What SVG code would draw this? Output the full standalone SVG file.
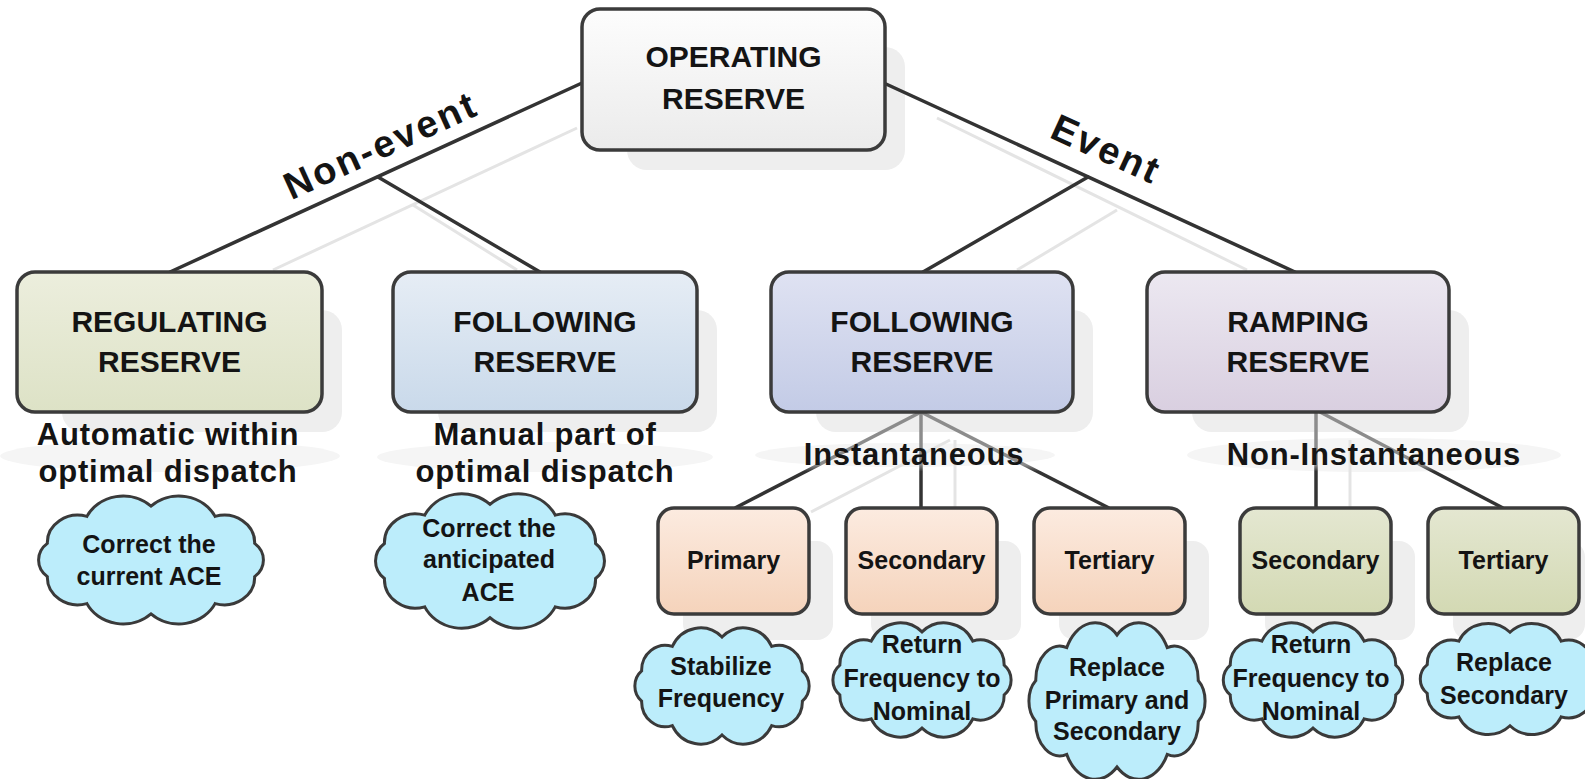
<svg xmlns="http://www.w3.org/2000/svg" xmlns:xlink="http://www.w3.org/1999/xlink" width="1585" height="779" viewBox="0 0 1585 779">
<style>
.box{stroke:#3b3b3b;stroke-width:3.5}
.shadow{fill:#eeeeee}
.halo{fill:#f5f5f5}
.conn{stroke:#333;stroke-width:3.5;fill:none;stroke-linecap:round}
.sub{stroke:url(#fade);stroke-width:3.5;fill:none}
.faint{stroke:#e4e4e4;stroke-width:3;fill:none}
text{font-family:"Liberation Sans",Arial,sans-serif;font-weight:bold;fill:#141414;text-anchor:middle}
.t-big{font-size:30px}
.t-cap{font-size:31px;letter-spacing:0.8px}
.t-sm{font-size:25px}
.t-lbl{font-size:38px;letter-spacing:2.5px}
.cloud{fill:#bcedfb;stroke:#3a3a3a;stroke-width:3}
</style>
<defs>
<linearGradient id="gOp" x1="0" y1="0" x2="0" y2="1"><stop offset="0" stop-color="#fdfdfd"/><stop offset="1" stop-color="#ebebeb"/></linearGradient>
<linearGradient id="gReg" x1="0" y1="0" x2="0" y2="1"><stop offset="0" stop-color="#eceedd"/><stop offset="1" stop-color="#dde2c6"/></linearGradient>
<linearGradient id="gFolL" x1="0" y1="0" x2="0" y2="1"><stop offset="0" stop-color="#e6edf5"/><stop offset="1" stop-color="#c9d9ea"/></linearGradient>
<linearGradient id="gFolR" x1="0" y1="0" x2="0" y2="1"><stop offset="0" stop-color="#dfe2f2"/><stop offset="1" stop-color="#c3cbe6"/></linearGradient>
<linearGradient id="gRamp" x1="0" y1="0" x2="0" y2="1"><stop offset="0" stop-color="#ece8f1"/><stop offset="1" stop-color="#d9cfe0"/></linearGradient>
<linearGradient id="gOr" x1="0" y1="0" x2="0" y2="1"><stop offset="0" stop-color="#fcebe0"/><stop offset="1" stop-color="#f5d3bb"/></linearGradient>
<linearGradient id="gGr" x1="0" y1="0" x2="0" y2="1"><stop offset="0" stop-color="#e4e7d1"/><stop offset="1" stop-color="#d3d9b3"/></linearGradient>
<linearGradient id="fade" gradientUnits="userSpaceOnUse" x1="0" y1="412" x2="0" y2="508"><stop offset="0" stop-color="#8c8c8c"/><stop offset="0.55" stop-color="#8c8c8c"/><stop offset="0.62" stop-color="#333"/><stop offset="1" stop-color="#333"/></linearGradient>
<path id="cloud" vector-effect="non-scaling-stroke" d="M95.1,17 A28,28 0 0 1 58.8,44.5 A37,37 0 0 1 0,55 A37,37 0 0 1 -58.8,44.5 A28,28 0 0 1 -95.1,17 A22,22 0 0 1 -95.1,-17 A28,28 0 0 1 -58.8,-44.5 A37,37 0 0 1 0,-55 A37,37 0 0 1 58.8,-44.5 A28,28 0 0 1 95.1,-17 A22,22 0 0 1 95.1,17 Z"/>
</defs>
<rect width="1585" height="779" fill="#ffffff"/>

<g id="shadows">
<rect class="shadow" x="627" y="47" width="278" height="123" rx="20"/>
<rect class="shadow" x="62" y="310" width="280" height="122" rx="20"/>
<rect class="shadow" x="438" y="310" width="279" height="122" rx="20"/>
<rect class="shadow" x="816" y="310" width="277" height="122" rx="20"/>
<rect class="shadow" x="1192" y="310" width="277" height="122" rx="20"/>
<rect class="shadow" x="683" y="541" width="150" height="99" rx="16"/>
<rect class="shadow" x="871" y="541" width="150" height="99" rx="16"/>
<rect class="shadow" x="1059" y="541" width="150" height="99" rx="16"/>
<rect class="shadow" x="1265" y="541" width="150" height="99" rx="16"/>
<rect class="shadow" x="1453" y="541" width="132" height="99" rx="16"/>
<ellipse class="halo" cx="170" cy="456" rx="170" ry="16"/>
<ellipse class="halo" cx="545" cy="457" rx="168" ry="15"/>
<ellipse class="halo" cx="905" cy="455" rx="150" ry="12"/>
<ellipse class="halo" cx="1374" cy="455" rx="187" ry="17"/>
</g>

<g id="connectors">
<line class="faint" x1="577" y1="128" x2="273" y2="270"/>
<line class="faint" x1="413" y1="205" x2="517" y2="270"/>
<line class="faint" x1="937" y1="118" x2="1247" y2="270"/>
<line class="faint" x1="1117" y1="210" x2="1017" y2="270"/>
<line class="faint" x1="955" y1="440" x2="955" y2="508"/>
<line class="faint" x1="950" y1="440" x2="811" y2="512"/>
<line class="faint" x1="1350" y1="440" x2="1350" y2="508"/>
<line class="conn" x1="582" y1="83" x2="170" y2="272"/>
<line class="conn" x1="378" y1="177" x2="540" y2="272"/>
<line class="conn" x1="886" y1="84" x2="1295" y2="272"/>
<line class="conn" x1="1088" y1="177" x2="923" y2="272"/>
<line class="sub" x1="921" y1="412" x2="735" y2="508"/>
<line class="sub" x1="921" y1="412" x2="921" y2="508"/>
<line class="sub" x1="921" y1="412" x2="1109" y2="508"/>
<line class="sub" x1="1316" y1="412" x2="1316" y2="508"/>
<line class="sub" x1="1320" y1="412" x2="1503" y2="508"/>
<text class="t-lbl" transform="translate(386,157) rotate(-24.5)">Non-event</text>
<text class="t-lbl" transform="translate(1101,161) rotate(24.5)">Event</text>
<text class="t-cap" x="914" y="465">Instantaneous</text>
<text class="t-cap" x="1374" y="465">Non-Instantaneous</text>
</g>

<g id="operating">
<rect class="box" x="582" y="9" width="303" height="141" rx="18" fill="url(#gOp)"/>
<text class="t-big" x="733.5" y="67">OPERATING</text>
<text class="t-big" x="733.5" y="109">RESERVE</text>
</g>

<g id="regulating">
<rect class="box" x="17" y="272" width="305" height="140" rx="18" fill="url(#gReg)"/>
<text class="t-big" x="169.5" y="332">REGULATING</text>
<text class="t-big" x="169.5" y="372">RESERVE</text>
<text class="t-cap" x="168" y="445">Automatic within</text>
<text class="t-cap" x="168" y="482">optimal dispatch</text>
</g>

<g id="following-nonevent">
<rect class="box" x="393" y="272" width="304" height="140" rx="18" fill="url(#gFolL)"/>
<text class="t-big" x="545" y="332">FOLLOWING</text>
<text class="t-big" x="545" y="372">RESERVE</text>
<text class="t-cap" x="545" y="445">Manual part of</text>
<text class="t-cap" x="545" y="482">optimal dispatch</text>
</g>

<g id="following-event">
<rect class="box" x="771" y="272" width="302" height="140" rx="18" fill="url(#gFolR)"/>
<text class="t-big" x="922" y="332">FOLLOWING</text>
<text class="t-big" x="922" y="372">RESERVE</text>
</g>

<g id="ramping">
<rect class="box" x="1147" y="272" width="302" height="140" rx="18" fill="url(#gRamp)"/>
<text class="t-big" x="1298" y="332">RAMPING</text>
<text class="t-big" x="1298" y="372">RESERVE</text>
</g>

<g id="primary">
<rect class="box" x="658" y="508" width="151" height="106" rx="16" fill="url(#gOr)"/>
<text class="t-sm" x="733.5" y="569">Primary</text>
</g>
<g id="secondary-inst">
<rect class="box" x="846" y="508" width="151" height="106" rx="16" fill="url(#gOr)"/>
<text class="t-sm" x="921.5" y="569">Secondary</text>
</g>
<g id="tertiary-inst">
<rect class="box" x="1034" y="508" width="151" height="106" rx="16" fill="url(#gOr)"/>
<text class="t-sm" x="1109.5" y="569">Tertiary</text>
</g>
<g id="secondary-noninst">
<rect class="box" x="1240" y="508" width="151" height="106" rx="16" fill="url(#gGr)"/>
<text class="t-sm" x="1315.5" y="569">Secondary</text>
</g>
<g id="tertiary-noninst">
<rect class="box" x="1428" y="508" width="151" height="106" rx="16" fill="url(#gGr)"/>
<text class="t-sm" x="1503.5" y="569">Tertiary</text>
</g>

<g id="cloud-current-ace">
<use class="cloud" xlink:href="#cloud" transform="translate(151,560) scale(1.09,0.98)"/>
<text class="t-sm" x="149" y="553">Correct the</text>
<text class="t-sm" x="149" y="585">current ACE</text>
</g>
<g id="cloud-anticipated-ace">
<use class="cloud" xlink:href="#cloud" transform="translate(490,561) scale(1.11,1.03)"/>
<text class="t-sm" x="489" y="537">Correct the</text>
<text class="t-sm" x="489" y="568">anticipated</text>
<text class="t-sm" x="488" y="601">ACE</text>
</g>
<g id="cloud-stabilize">
<use class="cloud" xlink:href="#cloud" transform="translate(722,686) scale(0.845,0.89)"/>
<text class="t-sm" x="721" y="675">Stabilize</text>
<text class="t-sm" x="721" y="707">Frequency</text>
</g>
<g id="cloud-return-inst">
<use class="cloud" xlink:href="#cloud" transform="translate(922,680) scale(0.864,0.875)"/>
<text class="t-sm" x="922" y="653">Return</text>
<text class="t-sm" x="922" y="687">Frequency to</text>
<text class="t-sm" x="922" y="720">Nominal</text>
</g>
<g id="cloud-replace-both">
<use class="cloud" xlink:href="#cloud" transform="translate(1117,701) scale(0.854,1.2)"/>
<text class="t-sm" x="1117" y="676">Replace</text>
<text class="t-sm" x="1117" y="709">Primary and</text>
<text class="t-sm" x="1117" y="740">Secondary</text>
</g>
<g id="cloud-return-noninst">
<use class="cloud" xlink:href="#cloud" transform="translate(1313,680) scale(0.87,0.875)"/>
<text class="t-sm" x="1311" y="653">Return</text>
<text class="t-sm" x="1311" y="687">Frequency to</text>
<text class="t-sm" x="1311" y="720">Nominal</text>
</g>
<g id="cloud-replace-secondary">
<use class="cloud" xlink:href="#cloud" transform="translate(1510,679) scale(0.87,0.85)"/>
<text class="t-sm" x="1504" y="671">Replace</text>
<text class="t-sm" x="1504" y="704">Secondary</text>
</g>
</svg>
